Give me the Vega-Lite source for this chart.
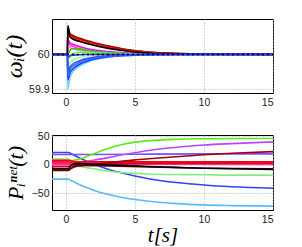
{
"$schema": "https://vega.github.io/schema/vega-lite/v6.json",
"padding": {"left": 2, "top": 18, "right": 5, "bottom": 0},
"spacing": 42,
"bounds": "flush",
"resolve": {"scale": {"color": "independent"}},
"config": {
  "view": {"stroke": "black", "strokeWidth": 1},
  "axis": {"labelFont": "Liberation Sans", "labelFontSize": 10.5, "labelColor": "#222", "grid": true, "gridColor": "#aaa", "gridDash": [1, 2], "gridWidth": 1, "domain": false, "ticks": false, "labelPadding": 4, "titleFont": "Liberation Serif", "titleFontStyle": "italic", "titleFontWeight": "normal", "titleColor": "black"}
},
"vconcat": [
{
  "width": 221, "height": 74,
  "layer": [
  {
    "data": {"values": [
{"s":"dr","t":-1,"v":60},{"s":"dr","t":0.12,"v":60},{"s":"dr","t":0.15,"v":60.075},{"s":"dr","t":0.3,"v":60.06},{"s":"dr","t":0.5,"v":60.054},{"s":"dr","t":1,"v":60.046},{"s":"dr","t":1.5,"v":60.04},{"s":"dr","t":2,"v":60.034},{"s":"dr","t":3,"v":60.025},{"s":"dr","t":4,"v":60.017},{"s":"dr","t":5,"v":60.011},{"s":"dr","t":6,"v":60.007},{"s":"dr","t":8,"v":60.003},{"s":"dr","t":10,"v":60.001},{"s":"dr","t":15,"v":60},
{"s":"r","t":-1,"v":60},{"s":"r","t":0.12,"v":60},{"s":"r","t":0.15,"v":60.072},{"s":"r","t":0.3,"v":60.057},{"s":"r","t":0.5,"v":60.051},{"s":"r","t":1,"v":60.043},{"s":"r","t":1.5,"v":60.037},{"s":"r","t":2,"v":60.031},{"s":"r","t":3,"v":60.022},{"s":"r","t":4,"v":60.015},{"s":"r","t":5,"v":60.01},{"s":"r","t":6,"v":60.006},{"s":"r","t":8,"v":60.0025},{"s":"r","t":10,"v":60.001},{"s":"r","t":15,"v":60},
{"s":"r2","t":-1,"v":60},{"s":"r2","t":0.12,"v":60},{"s":"r2","t":0.15,"v":60.066},{"s":"r2","t":0.3,"v":60.053},{"s":"r2","t":0.5,"v":60.047},{"s":"r2","t":1,"v":60.04},{"s":"r2","t":1.5,"v":60.034},{"s":"r2","t":2,"v":60.028},{"s":"r2","t":3,"v":60.02},{"s":"r2","t":4,"v":60.013},{"s":"r2","t":5,"v":60.008},{"s":"r2","t":6,"v":60.005},{"s":"r2","t":8,"v":60.002},{"s":"r2","t":10,"v":60.0005},{"s":"r2","t":15,"v":60},
{"s":"m1","t":-1,"v":60},{"s":"m1","t":0.12,"v":60},{"s":"m1","t":0.15,"v":60.042},{"s":"m1","t":0.3,"v":60.033},{"s":"m1","t":0.5,"v":60.029},{"s":"m1","t":1,"v":60.022},{"s":"m1","t":1.5,"v":60.017},{"s":"m1","t":2,"v":60.013},{"s":"m1","t":3,"v":60.008},{"s":"m1","t":4,"v":60.005},{"s":"m1","t":5,"v":60.003},{"s":"m1","t":6,"v":60.002},{"s":"m1","t":8,"v":60.001},{"s":"m1","t":10,"v":60},{"s":"m1","t":15,"v":60},
{"s":"m2","t":-1,"v":60},{"s":"m2","t":0.12,"v":60},{"s":"m2","t":0.15,"v":60.034},{"s":"m2","t":0.3,"v":60.027},{"s":"m2","t":0.5,"v":60.023},{"s":"m2","t":1,"v":60.016},{"s":"m2","t":1.5,"v":60.012},{"s":"m2","t":2,"v":60.009},{"s":"m2","t":3,"v":60.005},{"s":"m2","t":4,"v":60.003},{"s":"m2","t":5,"v":60.002},{"s":"m2","t":6,"v":60.001},{"s":"m2","t":8,"v":60},{"s":"m2","t":10,"v":60},{"s":"m2","t":15,"v":60},
{"s":"m3","t":-1,"v":60},{"s":"m3","t":0.12,"v":60},{"s":"m3","t":0.15,"v":60.026},{"s":"m3","t":0.3,"v":60.02},{"s":"m3","t":0.5,"v":60.016},{"s":"m3","t":1,"v":60.011},{"s":"m3","t":1.5,"v":60.008},{"s":"m3","t":2,"v":60.006},{"s":"m3","t":3,"v":60.003},{"s":"m3","t":4,"v":60.002},{"s":"m3","t":5,"v":60.001},{"s":"m3","t":6,"v":60},{"s":"m3","t":8,"v":60},{"s":"m3","t":10,"v":60},{"s":"m3","t":15,"v":60},
{"s":"g1","t":-1,"v":60},{"s":"g1","t":0.12,"v":60},{"s":"g1","t":0.15,"v":60},{"s":"g1","t":0.3,"v":60.012},{"s":"g1","t":0.5,"v":60.017},{"s":"g1","t":1,"v":60.015},{"s":"g1","t":1.5,"v":60.012},{"s":"g1","t":2,"v":60.009},{"s":"g1","t":3,"v":60.005},{"s":"g1","t":4,"v":60.003},{"s":"g1","t":5,"v":60.002},{"s":"g1","t":6,"v":60.001},{"s":"g1","t":8,"v":60},{"s":"g1","t":10,"v":60},{"s":"g1","t":15,"v":60},
{"s":"g2","t":-1,"v":60},{"s":"g2","t":0.12,"v":60},{"s":"g2","t":0.15,"v":59.985},{"s":"g2","t":0.3,"v":59.995},{"s":"g2","t":0.5,"v":60.002},{"s":"g2","t":1,"v":60.006},{"s":"g2","t":1.5,"v":60.006},{"s":"g2","t":2,"v":60.005},{"s":"g2","t":3,"v":60.003},{"s":"g2","t":4,"v":60.002},{"s":"g2","t":5,"v":60.001},{"s":"g2","t":6,"v":60},{"s":"g2","t":8,"v":60},{"s":"g2","t":10,"v":60},{"s":"g2","t":15,"v":60},
{"s":"g3","t":-1,"v":60},{"s":"g3","t":0.12,"v":60},{"s":"g3","t":0.15,"v":59.962},{"s":"g3","t":0.3,"v":59.975},{"s":"g3","t":0.5,"v":59.983},{"s":"g3","t":1,"v":59.991},{"s":"g3","t":1.5,"v":59.995},{"s":"g3","t":2,"v":59.997},{"s":"g3","t":3,"v":59.999},{"s":"g3","t":4,"v":60},{"s":"g3","t":5,"v":60},{"s":"g3","t":6,"v":60},{"s":"g3","t":8,"v":60},{"s":"g3","t":10,"v":60},{"s":"g3","t":15,"v":60},
{"s":"c1","t":-1,"v":60},{"s":"c1","t":0.12,"v":60},{"s":"c1","t":0.15,"v":59.902},{"s":"c1","t":0.3,"v":59.934},{"s":"c1","t":0.5,"v":59.95},{"s":"c1","t":1,"v":59.967},{"s":"c1","t":1.5,"v":59.977},{"s":"c1","t":2,"v":59.984},{"s":"c1","t":3,"v":59.992},{"s":"c1","t":4,"v":59.996},{"s":"c1","t":5,"v":59.998},{"s":"c1","t":6,"v":59.999},{"s":"c1","t":8,"v":60},{"s":"c1","t":10,"v":60},{"s":"c1","t":15,"v":60},
{"s":"c2","t":-1,"v":60},{"s":"c2","t":0.12,"v":60},{"s":"c2","t":0.15,"v":59.915},{"s":"c2","t":0.3,"v":59.942},{"s":"c2","t":0.5,"v":59.955},{"s":"c2","t":1,"v":59.97},{"s":"c2","t":1.5,"v":59.979},{"s":"c2","t":2,"v":59.986},{"s":"c2","t":3,"v":59.993},{"s":"c2","t":4,"v":59.996},{"s":"c2","t":5,"v":59.998},{"s":"c2","t":6,"v":59.999},{"s":"c2","t":8,"v":60},{"s":"c2","t":10,"v":60},{"s":"c2","t":15,"v":60},
{"s":"b1","t":-1,"v":60},{"s":"b1","t":0.12,"v":60},{"s":"b1","t":0.15,"v":59.928},{"s":"b1","t":0.3,"v":59.948},{"s":"b1","t":0.5,"v":59.958},{"s":"b1","t":1,"v":59.972},{"s":"b1","t":1.5,"v":59.98},{"s":"b1","t":2,"v":59.986},{"s":"b1","t":3,"v":59.993},{"s":"b1","t":4,"v":59.996},{"s":"b1","t":5,"v":59.998},{"s":"b1","t":6,"v":59.999},{"s":"b1","t":8,"v":60},{"s":"b1","t":10,"v":60},{"s":"b1","t":15,"v":60},
{"s":"b2","t":-1,"v":60},{"s":"b2","t":0.12,"v":60},{"s":"b2","t":0.15,"v":59.94},{"s":"b2","t":0.3,"v":59.957},{"s":"b2","t":0.5,"v":59.966},{"s":"b2","t":1,"v":59.977},{"s":"b2","t":1.5,"v":59.984},{"s":"b2","t":2,"v":59.989},{"s":"b2","t":3,"v":59.994},{"s":"b2","t":4,"v":59.997},{"s":"b2","t":5,"v":59.9985},{"s":"b2","t":6,"v":59.9995},{"s":"b2","t":8,"v":60},{"s":"b2","t":10,"v":60},{"s":"b2","t":15,"v":60},
{"s":"b3","t":-1,"v":60},{"s":"b3","t":0.12,"v":60},{"s":"b3","t":0.15,"v":59.95},{"s":"b3","t":0.3,"v":59.964},{"s":"b3","t":0.5,"v":59.972},{"s":"b3","t":1,"v":59.982},{"s":"b3","t":1.5,"v":59.988},{"s":"b3","t":2,"v":59.992},{"s":"b3","t":3,"v":59.996},{"s":"b3","t":4,"v":59.998},{"s":"b3","t":5,"v":59.999},{"s":"b3","t":6,"v":60},{"s":"b3","t":8,"v":60},{"s":"b3","t":10,"v":60},{"s":"b3","t":15,"v":60},
{"s":"k","t":-1,"v":60},{"s":"k","t":0.12,"v":60},{"s":"k","t":0.15,"v":60.082},{"s":"k","t":0.3,"v":60.05},{"s":"k","t":0.5,"v":60.044},{"s":"k","t":1,"v":60.037},{"s":"k","t":1.5,"v":60.031},{"s":"k","t":2,"v":60.026},{"s":"k","t":3,"v":60.018},{"s":"k","t":4,"v":60.012},{"s":"k","t":5,"v":60.007},{"s":"k","t":6,"v":60.004},{"s":"k","t":8,"v":60.002},{"s":"k","t":10,"v":60.0005},{"s":"k","t":15,"v":60},
{"s":"p","t":-1,"v":60},{"s":"p","t":0.12,"v":60},{"s":"p","t":0.15,"v":59.992},{"s":"p","t":0.3,"v":59.996},{"s":"p","t":0.5,"v":59.998},{"s":"p","t":1,"v":59.999},{"s":"p","t":1.5,"v":60},{"s":"p","t":2,"v":60},{"s":"p","t":3,"v":60},{"s":"p","t":4,"v":60},{"s":"p","t":5,"v":60},{"s":"p","t":6,"v":60},{"s":"p","t":8,"v":60},{"s":"p","t":10,"v":60},{"s":"p","t":15,"v":60}
    ]},
    "mark": {"type": "line", "strokeWidth": 1.6, "interpolate": "monotone", "clip": true},
    "encoding": {
      "x": {"field": "t", "type": "quantitative", "scale": {"domain": [-1, 15], "nice": false}, "axis": {"values": [0, 5, 10, 15], "title": null}},
      "y": {"field": "v", "type": "quantitative", "scale": {"domain": [59.89, 60.101], "nice": false, "zero": false}, "axis": {"values": [59.9, 60], "format": ".3~r", "title": "ωᵢ(t)", "titleFontSize": 24, "titlePadding": 2, "labelPadding": 3}},
      "color": {"field": "s", "type": "nominal", "legend": null, "scale": {"domain": ["dr","r","r2","m1","m2","m3","g1","g2","g3","c1","c2","b1","b2","b3","k","p"], "range": ["#a00a0a","#d40000","#ee3030","#ff00ff","#ff40d0","#ff90e0","#22cc00","#66ff33","#99ff99","#55ddff","#88ccff","#2040ff","#4466ff","#3355ee","#000000","#3a3aff"]}}
    }
  },
  {
    "data": {"values": [{"t": -1, "v": 60}, {"t": 15, "v": 60}]},
    "mark": {"type": "line", "color": "black", "strokeDash": [2, 3], "strokeWidth": 1.5},
    "encoding": {
      "x": {"field": "t", "type": "quantitative"},
      "y": {"field": "v", "type": "quantitative"}
    }
  }
  ]
},
{
  "width": 221, "height": 75,
  "data": {"values": [
{"s":"lb","t":-1,"v":-25},{"s":"lb","t":0.2,"v":-25},{"s":"lb","t":0.3,"v":-26.4},{"s":"lb","t":0.5,"v":-28.9},{"s":"lb","t":0.75,"v":-32},{"s":"lb","t":1,"v":-34.8},{"s":"lb","t":1.5,"v":-39.9},{"s":"lb","t":2,"v":-44.3},{"s":"lb","t":3,"v":-51.4},{"s":"lb","t":4,"v":-56.8},{"s":"lb","t":5,"v":-60.8},{"s":"lb","t":6,"v":-63.8},{"s":"lb","t":8,"v":-67.8},{"s":"lb","t":10,"v":-70.1},{"s":"lb","t":12,"v":-71.3},{"s":"lb","t":15,"v":-72.3},
{"s":"bd","t":-1,"v":21.5},{"s":"bd","t":0.2,"v":21.5},{"s":"bd","t":0.3,"v":20.6},{"s":"bd","t":0.5,"v":18},{"s":"bd","t":0.75,"v":14.9},{"s":"bd","t":1,"v":11.9},{"s":"bd","t":1.5,"v":6.4},{"s":"bd","t":2,"v":1.4},{"s":"bd","t":3,"v":-7.2},{"s":"bd","t":4,"v":-14.1},{"s":"bd","t":5,"v":-19.7},{"s":"bd","t":6,"v":-24.3},{"s":"bd","t":8,"v":-31},{"s":"bd","t":10,"v":-35.4},{"s":"bd","t":12,"v":-38.4},{"s":"bd","t":15,"v":-41},
{"s":"vi","t":-1,"v":18},{"s":"vi","t":0.2,"v":18},{"s":"vi","t":1,"v":18},{"s":"vi","t":5,"v":18.5},{"s":"vi","t":10,"v":19},{"s":"vi","t":15,"v":19},
{"s":"g","t":-1,"v":9.5},{"s":"g","t":0.2,"v":9.5},{"s":"g","t":0.3,"v":8},{"s":"g","t":0.5,"v":7.5},{"s":"g","t":0.75,"v":8.5},{"s":"g","t":1,"v":10},{"s":"g","t":1.5,"v":14},{"s":"g","t":2,"v":19},{"s":"g","t":3,"v":28},{"s":"g","t":4,"v":35},{"s":"g","t":5,"v":39.5},{"s":"g","t":6,"v":42},{"s":"g","t":8,"v":44.5},{"s":"g","t":10,"v":45.5},{"s":"g","t":12,"v":46},{"s":"g","t":15,"v":46},
{"s":"lg","t":-1,"v":9},{"s":"lg","t":0.2,"v":9},{"s":"lg","t":0.3,"v":4},{"s":"lg","t":0.5,"v":0},{"s":"lg","t":0.75,"v":-1.5},{"s":"lg","t":1,"v":-3},{"s":"lg","t":1.5,"v":-5},{"s":"lg","t":2,"v":-7},{"s":"lg","t":3,"v":-11},{"s":"lg","t":4,"v":-13.5},{"s":"lg","t":5,"v":-15},{"s":"lg","t":6,"v":-16},{"s":"lg","t":8,"v":-17},{"s":"lg","t":10,"v":-17.5},{"s":"lg","t":12,"v":-18},{"s":"lg","t":15,"v":-18},
{"s":"pu","t":-1,"v":3},{"s":"pu","t":0.2,"v":3},{"s":"pu","t":0.5,"v":3},{"s":"pu","t":1,"v":4.5},{"s":"pu","t":2,"v":8},{"s":"pu","t":3,"v":12},{"s":"pu","t":4,"v":17},{"s":"pu","t":5,"v":21},{"s":"pu","t":6,"v":25},{"s":"pu","t":8,"v":30.5},{"s":"pu","t":10,"v":34.5},{"s":"pu","t":12,"v":37},{"s":"pu","t":15,"v":40},
{"s":"r1","t":-1,"v":8},{"s":"r1","t":0.2,"v":8},{"s":"r1","t":0.5,"v":6},{"s":"r1","t":1,"v":5},{"s":"r1","t":3,"v":5},{"s":"r1","t":6,"v":5},{"s":"r1","t":10,"v":5},{"s":"r1","t":15,"v":5},
{"s":"r2","t":-1,"v":5},{"s":"r2","t":0.2,"v":5},{"s":"r2","t":0.5,"v":4},{"s":"r2","t":1,"v":3.5},{"s":"r2","t":5,"v":3.5},{"s":"r2","t":15,"v":3.5},
{"s":"r3","t":-1,"v":2},{"s":"r3","t":0.2,"v":2},{"s":"r3","t":0.5,"v":1.5},{"s":"r3","t":1,"v":2},{"s":"r3","t":5,"v":2},{"s":"r3","t":15,"v":2},
{"s":"r4","t":-1,"v":0},{"s":"r4","t":0.2,"v":0},{"s":"r4","t":0.5,"v":0.5},{"s":"r4","t":1,"v":1},{"s":"r4","t":5,"v":1},{"s":"r4","t":15,"v":0.5},
{"s":"r5","t":-1,"v":-3},{"s":"r5","t":0.2,"v":-3},{"s":"r5","t":0.5,"v":0},{"s":"r5","t":1,"v":1.5},{"s":"r5","t":5,"v":2.5},{"s":"r5","t":15,"v":3},
{"s":"dr","t":-1,"v":-8},{"s":"dr","t":0.2,"v":-8},{"s":"dr","t":0.5,"v":-5},{"s":"dr","t":1,"v":-2},{"s":"dr","t":2,"v":1},{"s":"dr","t":3,"v":3.5},{"s":"dr","t":4,"v":6},{"s":"dr","t":5,"v":8.5},{"s":"dr","t":6,"v":10.5},{"s":"dr","t":8,"v":14},{"s":"dr","t":10,"v":17.5},{"s":"dr","t":12,"v":20},{"s":"dr","t":15,"v":23},
{"s":"mr","t":-1,"v":-10},{"s":"mr","t":0.2,"v":-10},{"s":"mr","t":0.5,"v":-3},{"s":"mr","t":1,"v":-1},{"s":"mr","t":3,"v":-2},{"s":"mr","t":6,"v":-4},{"s":"mr","t":10,"v":-6},{"s":"mr","t":15,"v":-7},
{"s":"k","t":-1,"v":-6.5},{"s":"k","t":0.2,"v":-6.5},{"s":"k","t":0.3,"v":-3},{"s":"k","t":0.5,"v":1},{"s":"k","t":0.75,"v":2},{"s":"k","t":1,"v":2},{"s":"k","t":1.5,"v":1.5},{"s":"k","t":2,"v":1},{"s":"k","t":3,"v":0},{"s":"k","t":4,"v":-1},{"s":"k","t":5,"v":-2},{"s":"k","t":6,"v":-3},{"s":"k","t":8,"v":-4.5},{"s":"k","t":10,"v":-6},{"s":"k","t":12,"v":-7},{"s":"k","t":15,"v":-8}
  ]},
  "mark": {"type": "line", "strokeWidth": 1.6, "interpolate": "monotone", "clip": true},
  "encoding": {
    "x": {"field": "t", "type": "quantitative", "scale": {"domain": [-1, 15], "nice": false}, "axis": {"values": [0, 5, 10, 15], "title": "t[s]", "titleFontSize": 21, "titlePadding": 0}},
    "y": {"field": "v", "type": "quantitative", "scale": {"domain": [-79, 52], "nice": false, "zero": false}, "axis": {"values": [-50, 0, 50], "title": "Pᵢⁿᵉᵗ(t)", "titleFontSize": 22, "titlePadding": 4, "labelPadding": 3}},
    "color": {"field": "s", "type": "nominal", "legend": null, "scale": {"domain": ["lb","bd","vi","g","lg","pu","r1","r2","r3","r4","r5","dr","mr","k"], "range": ["#55bbff","#3344ee","#7a4cff","#55ee11","#80ee80","#bb44ff","#ff0000","#ee1144","#ff2277","#ff3399","#dd0022","#a00010","#660011","#000000"]}}
  }
}
]
}
